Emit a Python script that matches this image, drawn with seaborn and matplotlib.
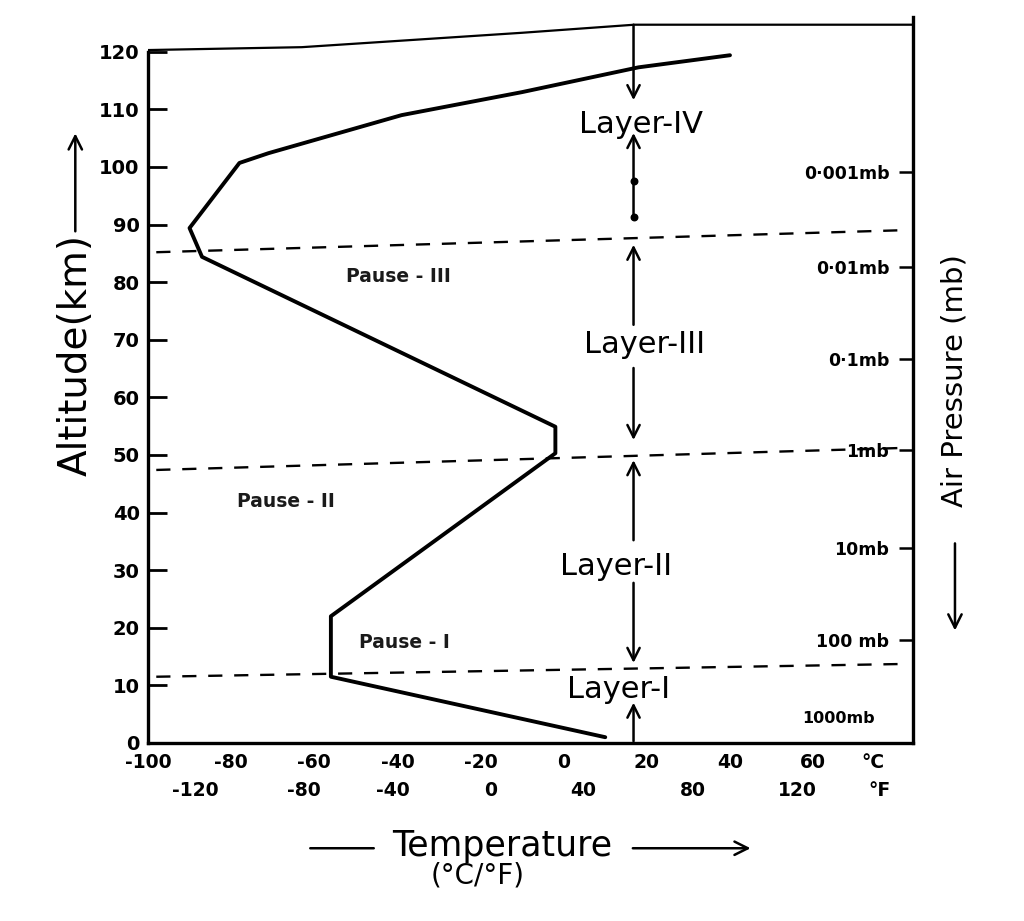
import seaborn as sns
import matplotlib.pyplot as plt
from matplotlib import transforms

# temperature profile (deg C) against altitude (km)
profile_temp = [10, -56, -56, -2, -2, -87, -90, -78, -71, -39, -10, 18, 40]
profile_alt = [1, 11.5, 22, 50.3, 54.9, 84.4, 89.4, 100.7, 102.4, 109, 113, 117.3, 119.4]

# sloping top edge of the hand drawn frame
frame_temp = [-100, -63, -10, 17, 84]
frame_alt = [120.3, 120.8, 123.3, 124.7, 124.7]

# dashed boundaries, left end and right end
pause_line_temp = [-98, 80.5]
pause_line_alts = [[85.2, 89.0], [47.4, 51.2], [11.5, 13.7]]

pause_names = ["Pause - III", "Pause - II", "Pause - I"]
pause_label_temp = [-39.8, -66.7, -38.3]
pause_label_alt = [80.9, 42.0, 17.4]

layer_names = ["Layer-IV", "Layer-III", "Layer-II", "Layer-I"]
layer_label_temp = [18.6, 19.5, 12.5, 13.3]
layer_label_alt = [107.3, 69.1, 30.6, 9.2]

# vertical arrows near 17 deg C: (tail, head)
arrow_temp = 16.8
arrow_spans = [(124.7, 111.6), (91.3, 105.9), (72.6, 86.5), (65.1, 52.6),
               (35.2, 49.1), (27.8, 13.9), (0.3, 7.0)]
dot_alts = [97.6, 91.3]

alt_ticks = list(range(0, 121, 10))
celsius_pos = [-100, -80, -60, -40, -20, 0, 20, 40, 60, 74.5]
celsius_labels = ["-100", "-80", "-60", "-40", "-20", "0", "20", "40", "60", "°C"]
inner_ticks = [-80, -60, -40, -20, 0, 20, 40]
fahr_pos = [-88.7, -62.6, -41.2, -17.6, 4.6, 31.1, 56.1, 75.9]
fahr_labels = ["-120", "-80", "-40", "0", "40", "80", "120", "°F"]

pressure_labels = ["0·001mb", "0·01mb", "0·1mb", "1mb", "10mb", "100 mb"]
pressure_alt = [99.1, 82.6, 66.6, 50.9, 33.9, 17.9]
surface_label = "1000mb"
surface_temp, surface_alt = 66, 4.3

sns.set_style("ticks", {"axes.edgecolor": "black", "text.color": "black",
                        "xtick.color": "black", "ytick.color": "black",
                        "axes.labelcolor": "black"})
plt.rcParams["font.family"] = ["DejaVu Sans"]

fig = plt.figure(figsize=(10.24, 9.21), dpi=100)
ax = fig.add_axes([0.1445, 0.1933, 0.747, 0.788])

sns.lineplot(x=profile_temp, y=profile_alt, sort=False, estimator=None,
             color="black", linewidth=2.8, ax=ax)
sns.lineplot(x=frame_temp, y=frame_alt, sort=False, estimator=None,
             color="black", linewidth=1.6, ax=ax)
for alts in pause_line_alts:
    ax.plot(pause_line_temp, alts, color="black", linewidth=1.7,
            linestyle=(0, (6, 5)))

for name, t, a in zip(pause_names, pause_label_temp, pause_label_alt):
    ax.text(t, a, name, ha="center", va="center", fontsize=13.5,
            fontweight="bold", color="#1a1a1a")
for name, t, a in zip(layer_names, layer_label_temp, layer_label_alt):
    ax.text(t, a, name, ha="center", va="center", fontsize=22)

for tail, head in arrow_spans:
    ax.annotate("", xy=(arrow_temp, head), xytext=(arrow_temp, tail),
                arrowprops=dict(arrowstyle="->", lw=1.8, color="black",
                                mutation_scale=22, shrinkA=0, shrinkB=0))
ax.scatter([arrow_temp] * len(dot_alts), dot_alts, s=22, color="black", zorder=3)

ax.set_xlim(-100, 84)
ax.set_ylim(0, 126)

# frame
ax.spines["top"].set_visible(False)
ax.spines["left"].set_bounds(0, 120)
for side in ["left", "right", "bottom"]:
    ax.spines[side].set_linewidth(2.4)
    ax.spines[side].set_visible(True)
    ax.spines[side].set_color("black")

ax.set_yticks(alt_ticks)
ax.set_yticklabels([str(v) for v in alt_ticks], fontsize=14, fontweight="bold")
ax.tick_params(axis="y", direction="in", length=14, width=2, pad=6, left=True,
               colors="black")

ax.set_xticks(celsius_pos)
ax.set_xticklabels(celsius_labels, fontsize=13.5, fontweight="bold")
ax.set_xticks(inner_ticks, minor=True)
ax.tick_params(axis="x", which="major", length=0, pad=7, bottom=True, colors="black")
ax.tick_params(axis="x", which="minor", direction="in", length=6, width=1.6,
               bottom=True, colors="black")

trans = transforms.blended_transform_factory(ax.transData, ax.transAxes)
for t, lab in zip(fahr_pos, fahr_labels):
    ax.text(t, -0.065, lab, transform=trans, ha="center", va="center",
            fontsize=13.5, fontweight="bold")

# pressure scale drawn inside the right edge
ax2 = ax.twinx()
ax2.set_ylim(ax.get_ylim())
ax2.set_yticks(pressure_alt)
ax2.set_yticklabels(pressure_labels, fontsize=12.5, fontweight="bold")
for lbl in ax2.get_yticklabels():
    lbl.set_horizontalalignment("right")
ax2.tick_params(axis="y", direction="in", length=10, width=1.8, pad=-17,
                colors="black")
for side in ax2.spines:
    ax2.spines[side].set_visible(False)
ax.text(surface_temp, surface_alt, surface_label, ha="center", va="center",
        fontsize=11.5, fontweight="bold")

# axis titles with hand drawn style arrows
arrow_kw = dict(arrowstyle="->", lw=1.8, color="black", mutation_scale=24,
                shrinkA=0, shrinkB=0)
ax.text(-0.095, 0.535, "Altitude(km)", transform=ax.transAxes, rotation=90,
        ha="center", va="center", fontsize=28)
ax.annotate("", xy=(-0.095, 0.84), xytext=(-0.095, 0.705),
            xycoords="axes fraction", arrowprops=arrow_kw)

ax.text(1.055, 0.50, "Air Pressure (mb)", transform=ax.transAxes, rotation=90,
        ha="center", va="center", fontsize=21)
ax.annotate("", xy=(1.055, 0.155), xytext=(1.055, 0.275),
            xycoords="axes fraction", arrowprops=arrow_kw)

fig.text(0.49, 0.081, "Temperature", ha="center", va="center", fontsize=25)
ax.annotate("", xy=(0.365, 0.079), xytext=(0.303, 0.079),
            xycoords="figure fraction",
            arrowprops=dict(arrowstyle="-", lw=1.8, color="black",
                            shrinkA=0, shrinkB=0))
ax.annotate("", xy=(0.733, 0.079), xytext=(0.618, 0.079),
            xycoords="figure fraction", arrowprops=arrow_kw)
ax.text(0.431, -0.182, "(°C/°F)", transform=ax.transAxes, ha="center",
        va="center", fontsize=20)

fig.savefig("out.png", dpi=100, facecolor="white")
